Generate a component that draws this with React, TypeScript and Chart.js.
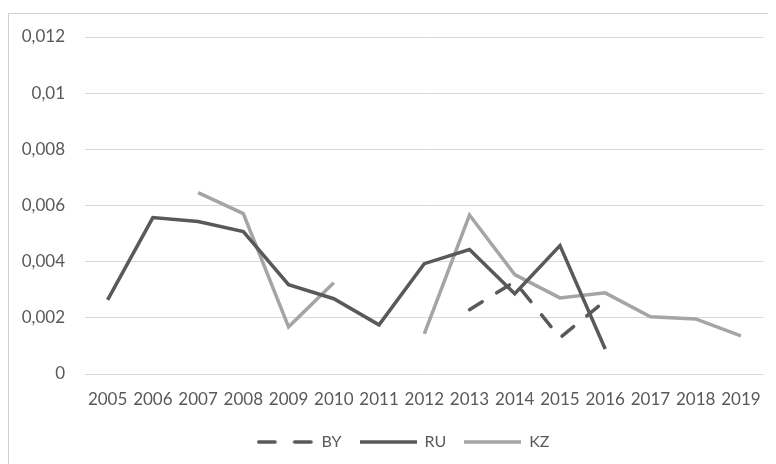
import React, { useEffect, useRef } from "react";
import { Chart, registerables } from "chart.js";

Chart.register(...registerables);

const years = ["2005", "2006", "2007", "2008", "2009", "2010", "2011", "2012", "2013", "2014", "2015", "2016", "2017", "2018", "2019"];
const byValues = [null, null, null, null, null, null, null, null, 0.00229, 0.00329, 0.00129, 0.00261, null, null, null];
const ruValues = [0.00264, 0.00557, 0.00543, 0.00507, 0.00318, 0.00268, 0.00175, 0.00393, 0.00443, 0.00286, 0.00457, 0.00089, null, null, null];
const kzValues = [null, null, 0.00646, 0.00571, 0.00168, 0.00325, null, 0.00143, 0.00566, 0.00354, 0.00271, 0.00289, 0.00204, 0.00196, 0.00136];
const yMin = 0;
const yMax = 0.012;
const yStep = 0.002;

const FONT = "Lato, 'Open Sans', sans-serif";
const LEGEND_W = 57;

function legendImage(color: string, dash: number[], cap: CanvasLineCap) {
  const c = document.createElement("canvas");
  c.width = LEGEND_W;
  c.height = 6;
  const ctx = c.getContext("2d")!;
  ctx.strokeStyle = color;
  ctx.lineWidth = 3.5;
  ctx.lineCap = cap;
  ctx.setLineDash(dash.length ? [16.5, 19.5] : []);
  ctx.beginPath();
  ctx.moveTo(dash.length ? 2 : 0, 3);
  ctx.lineTo(LEGEND_W, 3);
  ctx.stroke();
  return c;
}

const shiftLegend = {
  id: "shiftLegend",
  afterLayout(chart: any) {
    const l = chart.legend;
    if (l) {
      l.left += 16;
      l.right += 16;
    }
  },
};

export default function App() {
  const ref = useRef<HTMLCanvasElement>(null);
  useEffect(() => {
    if (!ref.current) return;
    const chart = new Chart(ref.current, {
      type: "line",
      data: {
        labels: years,
        datasets: [
          { label: "BY", data: byValues, borderColor: "#595959", backgroundColor: "#595959", borderWidth: 3.5, borderDash: [15, 17], borderCapStyle: "round", pointRadius: 0, tension: 0, spanGaps: false },
          { label: "RU", data: ruValues, borderColor: "#595959", backgroundColor: "#595959", borderWidth: 3.5, pointRadius: 0, tension: 0, spanGaps: false },
          { label: "KZ", data: kzValues, borderColor: "#a5a5a5", backgroundColor: "#a5a5a5", borderWidth: 3.5, pointRadius: 0, tension: 0, spanGaps: false },
        ],
      },
      plugins: [shiftLegend],
      options: {
        responsive: false,
        animation: false,
        layout: { padding: { top: 23, right: 11, bottom: 4, left: 0 } },
        plugins: {
          tooltip: { enabled: false },
          legend: {
            position: "bottom",
            labels: {
              usePointStyle: true,
              pointStyleWidth: LEGEND_W,
              padding: 18,
              color: "#595959",
              font: { family: FONT, size: 16 },
              generateLabels: (ch: any) =>
                ch.data.datasets.map((ds: any, i: number) => ({
                  text: ds.label,
                  datasetIndex: i,
                  fontColor: "#595959",
                  hidden: false,
                  lineWidth: 0,
                  strokeStyle: ds.borderColor,
                  fillStyle: ds.borderColor,
                  pointStyle: legendImage(ds.borderColor, ds.borderDash || [], ds.borderCapStyle || "butt"),
                })),
            },
          },
        },
        scales: {
          x: {
            offset: true,
            grid: { display: false, drawTicks: false, offset: true },
            border: { display: false },
            ticks: { color: "#595959", font: { family: FONT, size: 17 }, padding: 15, maxRotation: 0, autoSkip: false },
            afterFit: (s: any) => { s.height = 42; },
          },
          y: {
            min: yMin,
            max: yMax,
            grid: { color: "#d9d9d9", lineWidth: 1, drawTicks: false },
            border: { display: false },
            ticks: {
              stepSize: yStep,
              color: "#595959",
              font: { family: FONT, size: 17 },
              padding: 20,
              callback: (v: any) => Number(Number(v).toFixed(3)).toString().replace(".", ","),
            },
            afterFit: (s: any) => { s.width = 76; s.paddingTop = 0; s.paddingBottom = 0; },
          },
        },
      },
    });
    return () => chart.destroy();
  }, []);
  return (
    <div style={{ position: "relative", top: 5, width: 790, height: 460, border: "1px solid #d0d0d0", boxSizing: "border-box", background: "#fff" }}>
      <canvas ref={ref} width={767} height={450} style={{ display: "block" }} />
    </div>
  );
}
